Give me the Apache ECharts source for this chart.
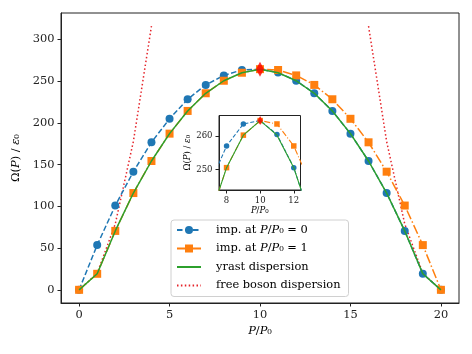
<!DOCTYPE html>
<html>
<head>
<meta charset="utf-8">
<script src="https://cdn.jsdelivr.net/npm/echarts@6/dist/echarts.min.js"></script>
<style>
  html, body { margin: 0; padding: 0; background: #fff; }
  #box { width: 472px; height: 354px; }
</style>
</head>
<body>
<div id="box"></div>
<script>
// momentum P/P0
var momenta = [0, 1, 2, 3, 4, 5, 6, 7, 8, 9, 10, 11, 12, 13, 14, 15, 16, 17, 18, 19, 20];
// impurity at P/P0 = 0
var impZero = [0, 53.6, 101, 141.6, 176.8, 205, 228.4, 245.6, 257, 263.5, 264.5,
               260.4, 250.6, 235.6, 214.4, 187.2, 154.4, 116, 70.6, 19.2, 0];
// impurity at P/P0 = 1
var impOne = [0, 19.2, 70.6, 116, 154.4, 187.2, 214.4, 235.6, 250.6, 260.2, 264.5,
              263.5, 257, 245.6, 228.4, 205, 176.8, 141.6, 101, 53.6, 0];
// yrast dispersion
var yrast = [0, 19.2, 70.6, 116, 154.4, 187.2, 214.4, 235.6, 250.6, 260.2, 264.5,
             260.2, 250.6, 235.6, 214.4, 187.2, 154.4, 116, 70.6, 19.2, 0];
// free boson dispersion (both branches)
var freeLeftP = [0, 1, 2, 3, 4];
var freeLeft = [0, 19.75, 79, 177.75, 316];
var freeRightP = [16, 17, 18, 19, 20];
var freeRight = [316, 177.75, 79, 19.75, 0];
// peak marker
var peak = [10, 264.5];

var xTicks = [0, 5, 10, 15, 20];
var yTicks = [0, 50, 100, 150, 200, 250, 300];
var insetXTicks = [8, 10, 12];
var insetYTicks = [250, 260];

var FONT = 'DejaVu Serif';
function pairs(xs, ys) { return xs.map(function (x, i) { return [x, ys[i]]; }); }

var rich = function (size) {
  return {
    a: { fontFamily: FONT, fontSize: size, color: '#000' },
    i: { fontFamily: FONT, fontSize: size, fontStyle: 'italic', color: '#000' }
  };
};

var legendNames = {
  imp0: '{a|imp. at }{i|P}{a|/}{i|P}{a|₀ = 0}',
  imp1: '{a|imp. at }{i|P}{a|/}{i|P}{a|₀ = 1}',
  yrast: '{a|yrast dispersion}',
  free: '{a|free boson dispersion}'
};

function axisCommon(size, ticks) {
  return {
    axisLine: { show: true, onZero: false, lineStyle: { color: '#222', width: 1 } },
    axisTick: { show: true, length: 3.5, customValues: ticks, lineStyle: { color: '#222' } },
    axisLabel: { customValues: ticks, margin: 6.5, fontFamily: FONT, fontSize: size, color: '#222' },
    splitLine: { show: false }
  };
}

function seriesSet(gi, big) {
  var lw = big ? 1.5 : 1.1;
  return [
    {
      name: 'imp0', type: 'line', xAxisIndex: gi, yAxisIndex: gi,
      data: pairs(momenta, impZero),
      symbol: 'circle', symbolSize: big ? 8 : 5.5,
      lineStyle: { color: '#1f77b4', width: lw, type: big ? [5.5, 2.5] : [4, 2] },
      itemStyle: { color: '#1f77b4' }, z: 3
    },
    {
      name: 'imp1', type: 'line', xAxisIndex: gi, yAxisIndex: gi,
      data: pairs(momenta, impOne),
      symbol: 'rect', symbolSize: big ? 8 : 5.5,
      lineStyle: { color: '#ff7f0e', width: lw, type: big ? [9.5, 2.5, 1.5, 2.5] : [6, 2, 1, 2] },
      itemStyle: { color: '#ff7f0e' }, z: 4
    },
    {
      name: 'yrast', type: 'line', xAxisIndex: gi, yAxisIndex: gi,
      data: pairs(momenta, yrast), showSymbol: false, symbol: 'none',
      lineStyle: { color: '#2ca02c', width: lw }, itemStyle: { color: '#2ca02c' }, z: 5
    },
    {
      name: 'free', type: 'line', xAxisIndex: gi, yAxisIndex: gi,
      data: pairs(freeLeftP, freeLeft), showSymbol: false, symbol: 'none',
      lineStyle: { color: '#e5242a', width: lw, type: [1.5, 2.4] }, itemStyle: { color: '#e5242a' }, z: 2
    },
    {
      name: 'free', type: 'line', xAxisIndex: gi, yAxisIndex: gi,
      data: pairs(freeRightP, freeRight), showSymbol: false, symbol: 'none',
      lineStyle: { color: '#e5242a', width: lw, type: [1.5, 2.4] }, itemStyle: { color: '#e5242a' }, z: 2
    },
    {
      name: 'peak', type: 'scatter', xAxisIndex: gi, yAxisIndex: gi,
      data: [peak], symbol: 'diamond', symbolSize: big ? [8, 15] : [5, 9],
      itemStyle: { color: '#ff0000' }, z: 6
    }
  ];
}

var chart = echarts.init(document.getElementById('box'));
chart.setOption({
  animation: false,
  backgroundColor: '#fff',
  grid: [
    { left: 61, right: 13, top: 13, bottom: 51, show: true, borderColor: '#222', borderWidth: 1, backgroundColor: 'transparent' },
    { left: 219, top: 115.5, width: 81.5, height: 74.5, show: true, borderColor: '#222', borderWidth: 1, backgroundColor: '#fff' }
  ],
  xAxis: [
    Object.assign({
      type: 'value', gridIndex: 0, min: -1, max: 21,
      name: '{i|P}{a|/}{i|P}{a|₀}', nameLocation: 'middle', nameGap: 20,
      nameTextStyle: { rich: rich(11.4) }
    }, axisCommon(11.4, xTicks)),
    Object.assign({
      type: 'value', gridIndex: 1, min: 7.55, max: 12.4,
      name: '{i|P}{a|/}{i|P}{a|₀}', nameLocation: 'middle', nameGap: 14,
      nameTextStyle: { rich: rich(8.5) }
    }, axisCommon(8.5, insetXTicks))
  ],
  yAxis: [
    Object.assign({
      type: 'value', gridIndex: 0, min: -15.8, max: 331.8,
      name: '{a|Ω(}{i|P}{a|) / }{i|ε}{a|₀}', nameLocation: 'middle', nameGap: 33, nameRotate: 90,
      nameTextStyle: { rich: rich(11.4) }
    }, axisCommon(11.4, yTicks)),
    Object.assign({
      type: 'value', gridIndex: 1, min: 244, max: 266,
      name: '{a|Ω(}{i|P}{a|) / }{i|ε}{a|₀}', nameLocation: 'middle', nameGap: 27, nameRotate: 90,
      nameTextStyle: { rich: rich(8.5) }
    }, axisCommon(8.5, insetYTicks))
  ],
  legend: {
    data: [
      'imp0', 'imp1',
      { name: 'yrast', itemStyle: { opacity: 0 } },
      { name: 'free', itemStyle: { opacity: 0 } }
    ],
    orient: 'vertical',
    left: 171, top: 220,
    padding: [3, 8, 4, 5],
    itemWidth: 24, itemHeight: 10, itemGap: 4.5,
    backgroundColor: 'rgba(255,255,255,0.85)',
    borderColor: '#d0d0d0', borderWidth: 1, borderRadius: 3,
    formatter: function (n) { return legendNames[n]; },
    textStyle: { fontFamily: FONT, fontSize: 11.4, lineHeight: 14, padding: [0, 0, 0, 10], rich: rich(11.4) }
  },
  series: seriesSet(0, true).concat(seriesSet(1, false))
});
</script>
</body>
</html>
